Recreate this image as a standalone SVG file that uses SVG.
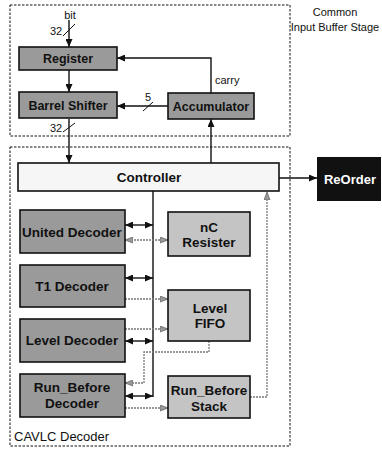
<svg xmlns="http://www.w3.org/2000/svg" width="382" height="450" viewBox="0 0 382 450">
<style>
.frame{fill:none;stroke:#111;stroke-width:1;stroke-dasharray:2.5 1.5}
.box{stroke:#111;stroke-width:1.6}
.dark{fill:#9a9a9a}
.light{fill:#c4c4c4}
.ctrl{fill:#f6f6f6}
.lbl{font-family:"Liberation Sans",Arial,sans-serif;font-weight:bold;font-size:13.5px;fill:#111;text-anchor:middle}
.top{font-size:12.5px}
.txt{font-family:"Liberation Sans",Arial,sans-serif;fill:#111}
.wire{fill:none;stroke:#111;stroke-width:1.4}
.dot{fill:none;stroke:#777;stroke-width:1.3;stroke-dasharray:2 1}
</style>
<defs>
<marker id="a" markerWidth="9" markerHeight="7" refX="8" refY="3.5" orient="auto-start-reverse" markerUnits="userSpaceOnUse"><path d="M0,0 L8,3.5 L0,7 z" fill="#111"/></marker>
<marker id="g" markerWidth="9" markerHeight="7" refX="8" refY="3.5" orient="auto-start-reverse" markerUnits="userSpaceOnUse"><path d="M0,0.5 L8,3.5 L0,6.5 z" fill="#999" stroke="#666" stroke-width="0.8"/></marker>
</defs>

<g id="input-buffer-stage">
<rect class="frame" x="10" y="5" width="280" height="131"/>
<text class="txt" x="335" y="16" font-size="11" text-anchor="middle">Common</text>
<text class="txt" x="335" y="31" font-size="11" text-anchor="middle">Input Buffer Stage</text>
</g>
<g id="cavlc-decoder">
<rect class="frame" x="10" y="147" width="280" height="299"/>
<text class="txt" x="14" y="441" font-size="13">CAVLC Decoder</text>
</g>

<g id="connectors">
<!-- input bit -->
<path class="wire" d="M69,20 V47" marker-end="url(#a)"/>
<line x1="63" y1="36" x2="75" y2="24" stroke="#111" stroke-width="1"/>
<text class="txt" x="70" y="19" font-size="11" text-anchor="middle">bit</text>
<text class="txt" x="56" y="35" font-size="11" text-anchor="middle">32</text>
<!-- register to barrel -->
<path class="wire" d="M69,70 V92" marker-end="url(#a)"/>
<!-- carry -->
<path class="wire" d="M211,93 V58 H117" marker-end="url(#a)"/>
<text class="txt" x="215" y="84" font-size="11">carry</text>
<!-- accumulator to barrel -->
<path class="wire" d="M168,106 H117" marker-end="url(#a)"/>
<line x1="143" y1="111" x2="153" y2="102" stroke="#111" stroke-width="1"/>
<text class="txt" x="148" y="101" font-size="11" text-anchor="middle">5</text>
<!-- barrel to controller -->
<path class="wire" d="M69,119 V163" marker-end="url(#a)"/>
<line x1="63" y1="132" x2="75" y2="123" stroke="#111" stroke-width="1"/>
<text class="txt" x="56" y="132" font-size="11" text-anchor="middle">32</text>
<!-- controller to accumulator -->
<path class="wire" d="M211,163 V119" marker-end="url(#a)"/>
<!-- controller to reorder -->
<path class="wire" d="M279,178 H317" marker-end="url(#a)"/>
<!-- bus -->
<path class="wire" d="M153,191 V397"/>
<path class="wire" d="M125,225 H153" marker-start="url(#a)" marker-end="url(#a)"/>
<path class="wire" d="M125,278 H153" marker-start="url(#a)" marker-end="url(#a)"/>
<path class="wire" d="M125,341 H153" marker-start="url(#a)" marker-end="url(#a)"/>
<path class="wire" d="M125,396 H153" marker-start="url(#a)" marker-end="url(#a)"/>
<!-- gray dotted data paths -->
<path class="dot" d="M125,240 H168" marker-start="url(#g)" marker-end="url(#g)"/>
<path class="dot" d="M125,299 H168" marker-end="url(#g)"/>
<path class="dot" d="M125,329 H168" marker-end="url(#g)"/>
<path class="dot" d="M209,341 V352 H144 V383 H125" marker-end="url(#g)"/>
<path class="dot" d="M125,408 H168" marker-end="url(#g)"/>
<path class="dot" d="M250,397 H267 V192" marker-end="url(#g)"/>
</g>

<g id="register">
<rect class="box dark" x="19" y="47" width="98" height="23"/>
<text class="lbl top" x="68" y="63">Register</text>
</g>
<g id="barrel-shifter">
<rect class="box dark" x="19" y="92" width="98" height="26"/>
<text class="lbl top" x="68" y="110">Barrel Shifter</text>
</g>
<g id="accumulator">
<rect class="box dark" x="168" y="93" width="86" height="26"/>
<text class="lbl top" x="211" y="111">Accumulator</text>
</g>
<g id="controller">
<rect class="box ctrl" x="18" y="163" width="261" height="28"/>
<text class="lbl" x="149" y="182">Controller</text>
</g>
<g id="reorder">
<rect x="317" y="157" width="64" height="44" fill="#111"/>
<text class="lbl" x="350" y="184" style="fill:#fff;font-size:13px">ReOrder</text>
</g>
<g id="united-decoder">
<rect class="box dark" x="20" y="210" width="105" height="43"/>
<text class="lbl" x="72" y="237">United Decoder</text>
</g>
<g id="nc-resister">
<rect class="box light" x="168" y="212" width="82" height="44"/>
<text class="lbl" x="209" y="232">nC</text>
<text class="lbl" x="209" y="247">Resister</text>
</g>
<g id="t1-decoder">
<rect class="box dark" x="20" y="265" width="105" height="42"/>
<text class="lbl" x="72" y="291">T1 Decoder</text>
</g>
<g id="level-fifo">
<rect class="box light" x="168" y="290" width="82" height="51"/>
<text class="lbl" x="210" y="313">Level</text>
<text class="lbl" x="210" y="328">FIFO</text>
</g>
<g id="level-decoder">
<rect class="box dark" x="20" y="319" width="105" height="43"/>
<text class="lbl" x="72" y="345">Level Decoder</text>
</g>
<g id="run-before-decoder">
<rect class="box dark" x="20" y="374" width="105" height="43"/>
<text class="lbl" x="72" y="392">Run_Before</text>
<text class="lbl" x="72" y="408">Decoder</text>
</g>
<g id="run-before-stack">
<rect class="box light" x="168" y="376" width="82" height="42"/>
<text class="lbl" x="209" y="395">Run_Before</text>
<text class="lbl" x="209" y="411">Stack</text>
</g>
</svg>
